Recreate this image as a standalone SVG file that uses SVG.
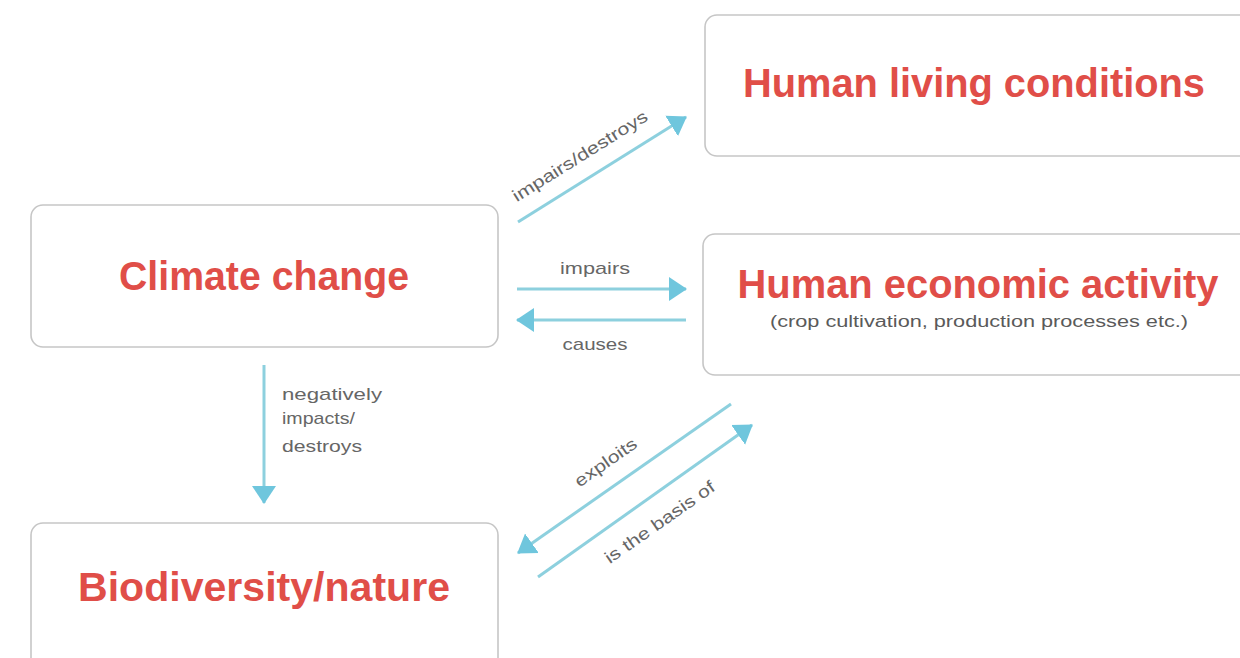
<svg xmlns="http://www.w3.org/2000/svg" width="1240" height="658" viewBox="0 0 1240 658">
  <style>
    .box { fill: #ffffff; stroke: #c6c6c6; stroke-width: 1.6; }
    .title { font-family: "Liberation Sans", Arial, sans-serif; font-weight: bold; font-size: 40px; fill: #e04e48; text-anchor: middle; }
    .sub { font-family: "Liberation Sans", Arial, sans-serif; font-size: 16px; fill: #5a5a5a; text-anchor: middle; }
    .lbl { font-family: "Liberation Sans", Arial, sans-serif; font-size: 17px; fill: #666666; }
    .conn { stroke: #8dd0de; stroke-width: 3; fill: none; }
  </style>
  <defs>
    <marker id="head" markerUnits="userSpaceOnUse" markerWidth="20" markerHeight="26" refX="17" refY="13" orient="auto">
      <path d="M0,1 L18,13 L0,25 z" fill="#6fc6dd"/>
    </marker>
  </defs>
  <rect width="1240" height="658" fill="#ffffff"/>

  <g id="node-living">
    <rect class="box" x="705" y="15" width="560" height="141" rx="12"/>
    <text class="title" x="974" y="97" textLength="462" lengthAdjust="spacingAndGlyphs">Human living conditions</text>
  </g>

  <g id="node-climate">
    <rect class="box" x="31" y="205" width="467" height="142" rx="12"/>
    <text class="title" x="264" y="290" textLength="290" lengthAdjust="spacingAndGlyphs">Climate change</text>
  </g>

  <g id="node-economy">
    <rect class="box" x="703" y="234" width="560" height="141" rx="12"/>
    <text class="title" x="978" y="298" textLength="481" lengthAdjust="spacingAndGlyphs">Human economic activity</text>
    <text class="sub" x="979" y="327" textLength="418" lengthAdjust="spacingAndGlyphs">(crop cultivation, production processes etc.)</text>
  </g>

  <g id="node-biodiversity">
    <rect class="box" x="31" y="523" width="467" height="160" rx="12"/>
    <text class="title" x="264" y="601" textLength="372" lengthAdjust="spacingAndGlyphs">Biodiversity/nature</text>
  </g>

  <g id="connectors">
    <!-- climate change -> living conditions -->
    <line class="conn" x1="518" y1="222" x2="686" y2="117" marker-end="url(#head)"/>
    <text class="lbl" x="583" y="161" text-anchor="middle" textLength="156" lengthAdjust="spacingAndGlyphs" transform="rotate(-32 583 161)">impairs/destroys</text>

    <!-- climate change <-> economic activity -->
    <line class="conn" x1="517" y1="289" x2="686" y2="289" marker-end="url(#head)"/>
    <text class="lbl" x="595" y="274" text-anchor="middle" textLength="70" lengthAdjust="spacingAndGlyphs">impairs</text>
    <line class="conn" x1="686" y1="320" x2="517" y2="320" marker-end="url(#head)"/>
    <text class="lbl" x="595" y="350" text-anchor="middle" textLength="65" lengthAdjust="spacingAndGlyphs">causes</text>

    <!-- climate change -> biodiversity -->
    <line class="conn" x1="264" y1="365" x2="264" y2="503" marker-end="url(#head)"/>
    <text class="lbl" x="282" y="400" textLength="100" lengthAdjust="spacingAndGlyphs">negatively</text>
    <text class="lbl" x="282" y="424" textLength="73" lengthAdjust="spacingAndGlyphs">impacts/</text>
    <text class="lbl" x="282" y="452" textLength="80" lengthAdjust="spacingAndGlyphs">destroys</text>

    <!-- economic activity <-> biodiversity -->
    <line class="conn" x1="731" y1="404" x2="518" y2="553" marker-end="url(#head)"/>
    <text class="lbl" x="609" y="467" text-anchor="middle" textLength="72" lengthAdjust="spacingAndGlyphs" transform="rotate(-35 609 467)">exploits</text>
    <line class="conn" x1="538" y1="577" x2="752" y2="425" marker-end="url(#head)"/>
    <text class="lbl" x="663" y="527" text-anchor="middle" textLength="130" lengthAdjust="spacingAndGlyphs" transform="rotate(-35 663 527)">is the basis of</text>
  </g>
</svg>
